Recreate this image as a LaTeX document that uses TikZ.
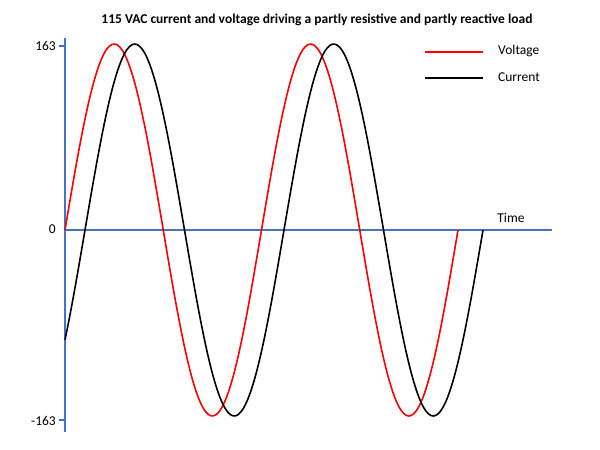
\documentclass[tikz,border=0pt]{standalone}
\usepackage{fontspec}
\setmainfont{Carlito}
\definecolor{axisblue}{RGB}{68,114,196}
\begin{document}
\begin{tikzpicture}[x=1pt,y=-1pt,
  axis/.style={axisblue,line width=1.2pt},
  wave/.style={line width=1.6pt,smooth},
  lbl/.style={font=\fontsize{13.5}{15}\selectfont,inner sep=1pt}]
\useasboundingbox (0,0) rectangle (600,450);
\node[font=\bfseries\fontsize{13.5}{15}\selectfont] (title) at (317,20) {115 VAC current and voltage driving a partly resistive and partly reactive load};
\draw[axis] (65,38) coordinate (ytop) -- (65,432) coordinate (ybot);
\draw[axis] (65,230) coordinate (o) -- (552,230) coordinate (xend);
\draw[axis] (59,46) -- (65,46);
\draw[axis] (59,420) -- (65,420);
\node[lbl,anchor=east] (l163) at (57,46) {163};
\node[lbl,anchor=east] (l0) at (57,229) {0};
\node[lbl,anchor=east] (lm163) at (57,421) {-163};
\node[lbl] (time) at (511,218) {Time};
\draw[red,wave] plot[domain=65:458,samples=160] (\x,{230-186*sin(1.8321*(\x-65))});
\draw[black,wave] plot[domain=65:483,samples=170] (\x,{230-186*sin(1.809*(\x-85))});
\draw[red,line width=1.4pt] (425,52) coordinate (lv1) -- (483,52) coordinate (lv2);
\draw[black,line width=1.4pt] (425,78) coordinate (lc1) -- (483,78) coordinate (lc2);
\node[lbl,anchor=west] (vl) at (497,51) {Voltage};
\node[lbl,anchor=west] (cl) at (497,77) {Current};
\end{tikzpicture}
\end{document}
